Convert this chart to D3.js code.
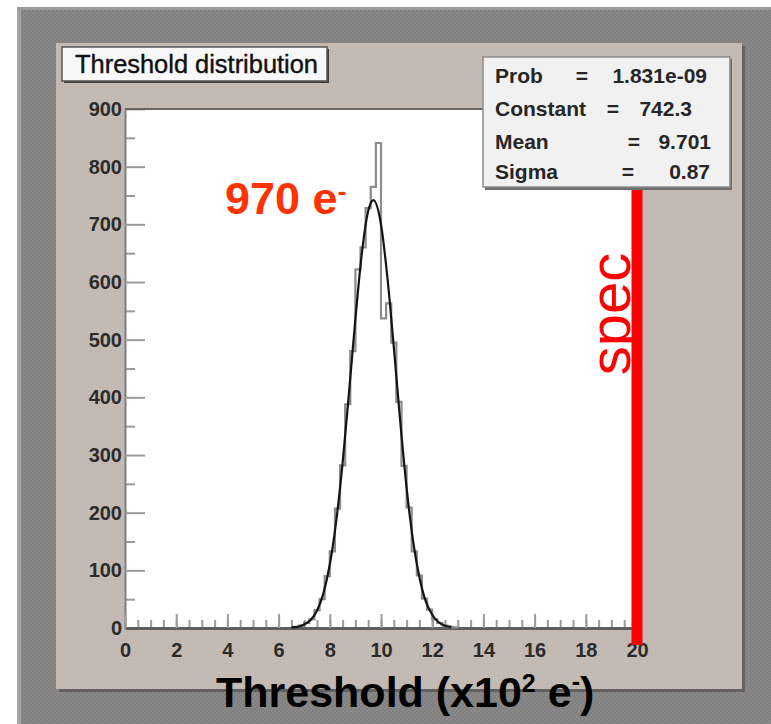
<!DOCTYPE html>
<html>
<head>
<meta charset="utf-8">
<script src="https://cdn.jsdelivr.net/npm/d3@7"></script>
<style>
  body { margin: 0; background: #fff; }
  svg { display: block; }
</style>
</head>
<body>
<svg width="771" height="724"></svg>
<script>
// histogram bins (x in 100 e-)
var binEdges = [6.6, 6.8, 7.0, 7.2, 7.4, 7.6, 7.8, 8.0, 8.2, 8.4, 8.6, 8.8, 9.0, 9.2, 9.4, 9.6, 9.8,
                10.0, 10.2, 10.4, 10.6, 10.8, 11.0, 11.2, 11.4, 11.6, 11.8, 12.0, 12.2, 12.4, 12.6, 12.8, 13.0];
var binCounts = [2, 4, 9, 15, 31, 50, 90, 133, 207, 282, 388, 480, 622, 660, 728, 765, 841,
                 537, 563, 495, 392, 281, 209, 133, 91, 51, 32, 15, 9, 4, 2, 1];

// gaussian fit curve
var fitX = [6.5, 6.75, 7.0, 7.25, 7.5, 7.75, 8.0, 8.25, 8.5, 8.75, 9.0, 9.25, 9.5, 9.7,
            10.0, 10.25, 10.5, 10.75, 11.0, 11.25, 11.5, 11.75, 12.0, 12.25, 12.5, 12.75];
var fitY = [1, 2, 6, 14, 30, 60, 110, 185, 286, 408, 536, 649, 723, 742,
            700, 608, 487, 359, 243, 152, 88, 46, 23, 10, 4, 2];

var statNames = ["Prob", "Constant", "Mean", "Sigma"];
var statValues = ["1.831e-09", "742.3", "9.701", "0.87"];

var xTicks = [0, 2, 4, 6, 8, 10, 12, 14, 16, 18, 20];
var yTicks = [0, 100, 200, 300, 400, 500, 600, 700, 800, 900];

var specValue = 20;
var peakText = "970 e";
var histTitle = "Threshold  distribution";

(function () {
    var svg = d3.select("svg"),
        font = "'Liberation Sans', Arial, Helvetica, sans-serif",
        plot = {left: 125, right: 637, top: 109, bottom: 628};

    var x = d3.scaleLinear().domain([0, 20]).range([plot.left, plot.right]),
        y = d3.scaleLinear().domain([0, 900]).range([plot.bottom, plot.top]);

    ////////////////////////////////////////////////////////////////////////////
    // background patterns
    var defs = svg.append("defs");

    var outerPat = defs.append("pattern").attr("id", "outerPat")
        .attr("width", 4).attr("height", 4).attr("patternUnits", "userSpaceOnUse");
    outerPat.append("rect").attr("width", 4).attr("height", 4).attr("fill", "#818080");
    outerPat.append("rect").attr("width", 2).attr("height", 2).attr("fill", "#8a8888");
    outerPat.append("rect").attr("x", 2).attr("y", 2).attr("width", 2).attr("height", 2).attr("fill", "#8a8888");

    var beigePat = defs.append("pattern").attr("id", "beigePat")
        .attr("width", 4).attr("height", 4).attr("patternUnits", "userSpaceOnUse");
    beigePat.append("rect").attr("width", 4).attr("height", 4).attr("fill", "#c2bab2");
    beigePat.append("rect").attr("x", 1).attr("y", 1).attr("width", 1).attr("height", 1).attr("fill", "#ccc5be");

    svg.append("rect").attr("x", 17).attr("y", 7).attr("width", 754).attr("height", 717)
        .attr("fill", "url(#outerPat)");
    svg.append("rect").attr("x", 17).attr("y", 7).attr("width", 4).attr("height", 717).attr("fill", "#a5a3a3");
    svg.append("rect").attr("x", 17).attr("y", 7).attr("width", 754).attr("height", 3).attr("fill", "#9c9a9a");

    // canvas panel + shadow
    svg.append("rect").attr("x", 742).attr("y", 46).attr("width", 3).attr("height", 646).attr("fill", "#626060");
    svg.append("rect").attr("x", 59).attr("y", 689).attr("width", 686).attr("height", 3).attr("fill", "#626060");
    svg.append("rect").attr("x", 56).attr("y", 43).attr("width", 686).attr("height", 646)
        .attr("fill", "url(#beigePat)");

    // plot frame
    svg.append("rect")
        .attr("x", plot.left).attr("y", plot.top)
        .attr("width", plot.right - plot.left).attr("height", plot.bottom - plot.top)
        .attr("fill", "#ffffff");

    ////////////////////////////////////////////////////////////////////////////
    // axes
    function styleTicks(g, color) {
        g.selectAll(".tick line").attr("stroke", color).attr("stroke-width", 2);
    }

    var yMinor = svg.append("g").attr("transform", "translate(" + plot.left + ",0)")
        .call(d3.axisLeft(y).tickValues(d3.range(50, 900, 100)).tickSize(-10).tickFormat(""));
    yMinor.select(".domain").remove();
    styleTicks(yMinor, "#9a9a9a");

    var yAxis = svg.append("g").attr("transform", "translate(" + plot.left + ",0)")
        .call(d3.axisLeft(y).tickValues(yTicks).tickSize(-20).tickSizeOuter(0).tickPadding(3));
    yAxis.select(".domain").attr("stroke", "#7e7e7e").attr("stroke-width", 2);
    styleTicks(yAxis, "#9a9a9a");
    yAxis.selectAll("text")
        .attr("font-family", font).attr("font-size", 20).attr("font-weight", "bold")
        .attr("fill", "#2b2b2b");

    var xMinor = svg.append("g").attr("transform", "translate(0," + plot.bottom + ")")
        .call(d3.axisBottom(x).tickValues(d3.range(0, 20.001, 0.5)).tickSize(-8).tickFormat(""));
    xMinor.select(".domain").remove();
    styleTicks(xMinor, "#9a9a9a");

    var xAxis = svg.append("g").attr("transform", "translate(0," + plot.bottom + ")")
        .call(d3.axisBottom(x).tickValues(xTicks).tickSize(-14).tickSizeOuter(0).tickPadding(15));
    xAxis.select(".domain").attr("stroke", "#5e5e5e").attr("stroke-width", 3);
    styleTicks(xAxis, "#9a9a9a");
    xAxis.selectAll("text")
        .attr("font-family", font).attr("font-size", 20).attr("font-weight", "bold")
        .attr("fill", "#2b2b2b");

    // top frame line
    svg.append("line")
        .attr("x1", plot.left).attr("x2", plot.right)
        .attr("y1", plot.top).attr("y2", plot.top)
        .attr("stroke", "#666").attr("stroke-width", 2);

    ////////////////////////////////////////////////////////////////////////////
    // histogram outline
    var histPts = [[binEdges[0], 0]];
    binCounts.forEach(function (c, i) {
        histPts.push([binEdges[i], c]);
        histPts.push([binEdges[i + 1], c]);
    });
    histPts.push([binEdges[binEdges.length - 1], 0]);

    var line = d3.line()
        .x(function (d) { return x(d[0]); })
        .y(function (d) { return y(d[1]); });

    svg.append("path")
        .attr("d", line(histPts))
        .attr("fill", "none")
        .attr("stroke", "#8c8c8c")
        .attr("stroke-width", 2.2);

    // fit
    var fitLine = d3.line()
        .curve(d3.curveMonotoneX)
        .x(function (d, i) { return x(fitX[i]); })
        .y(function (d) { return y(d); });

    svg.append("path")
        .attr("d", fitLine(fitY))
        .attr("fill", "none")
        .attr("stroke", "#141414")
        .attr("stroke-width", 2.2);

    ////////////////////////////////////////////////////////////////////////////
    // spec line
    svg.append("text")
        .attr("transform", "translate(630,314) rotate(-90)")
        .attr("text-anchor", "middle")
        .attr("font-family", font).attr("font-size", 58)
        .attr("fill", "#ff0000")
        .text("spec");

    svg.append("rect")
        .attr("x", x(specValue) - 5.5)
        .attr("width", 11)
        .attr("y", y(900))
        .attr("height", y(0) + 17 - y(900))
        .attr("fill", "#ff0000");

    // peak label
    var peak = svg.append("text")
        .attr("x", 225).attr("y", 214)
        .attr("font-family", font).attr("font-size", 45).attr("font-weight", "bold")
        .attr("fill", "#ff3300");
    peak.append("tspan").text(peakText);
    peak.append("tspan").attr("font-size", 26).attr("dy", -14).text("-");

    ////////////////////////////////////////////////////////////////////////////
    // stats box
    svg.append("rect").attr("x", 485).attr("y", 59).attr("width", 247).attr("height", 131).attr("fill", "#6e6e6e");
    svg.append("rect").attr("x", 483).attr("y", 57).attr("width", 247).attr("height", 130)
        .attr("fill", "#f1f1f1").attr("stroke", "#8a8a8a").attr("stroke-width", 1.5);

    var rowY = [83, 116, 149, 179],
        eqX = [582, 613, 634, 628],
        valEnd = [707, 692, 711, 710];

    var stats = svg.append("g")
        .attr("font-family", font).attr("font-size", 21).attr("font-weight", "bold")
        .attr("fill", "#262626");

    statNames.forEach(function (name, i) {
        stats.append("text").attr("x", 495).attr("y", rowY[i]).text(name);
        stats.append("text").attr("x", eqX[i]).attr("y", rowY[i]).attr("text-anchor", "middle").text("=");
        stats.append("text").attr("x", valEnd[i]).attr("y", rowY[i]).attr("text-anchor", "end").text(statValues[i]);
    });

    // title box
    svg.append("rect").attr("x", 64).attr("y", 49).attr("width", 265).attr("height", 34).attr("fill", "#3c3c3c");
    svg.append("rect").attr("x", 62).attr("y", 47).attr("width", 265).attr("height", 34)
        .attr("fill", "#f8f8f8").attr("stroke", "#555").attr("stroke-width", 1.5);
    svg.append("text")
        .attr("x", 75).attr("y", 73)
        .attr("font-family", font).attr("font-size", 25)
        .attr("textLength", 243).attr("lengthAdjust", "spacingAndGlyphs")
        .attr("fill", "#111").attr("stroke", "#111").attr("stroke-width", 0.4)
        .text(histTitle);

    // x axis title
    var title = svg.append("text")
        .attr("x", 216).attr("y", 707)
        .attr("font-family", font).attr("font-size", 43).attr("font-weight", "bold")
        .attr("fill", "#000");
    title.append("tspan").text("Threshold (x10");
    title.append("tspan").attr("font-size", 25).attr("dy", -15).text("2");
    title.append("tspan").attr("dy", 15).text(" e");
    title.append("tspan").attr("font-size", 25).attr("dy", -17).text("-");
    title.append("tspan").attr("dy", 17).text(")");
})();
</script>
</body>
</html>
